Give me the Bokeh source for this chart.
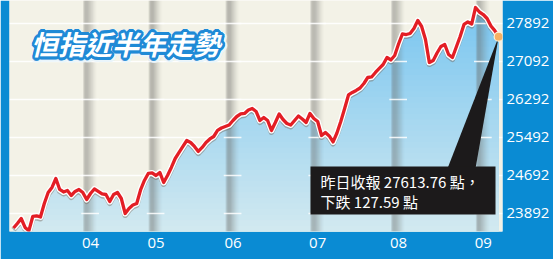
import numpy as np
from bokeh.plotting import figure
from bokeh.models import Range1d, FixedTicker, ColumnDataSource
from bokeh.core.properties import value
from bokeh.embed import file_html
from bokeh.resources import INLINE

# Hang Seng Index daily closes over the last half year (trading-day index 0..126)
closes = [
    23587, 23682, 23787, 23598, 23530, 23829, 23840, 23819, 24103, 24334,
    24440, 24629, 24398, 24345, 24377, 24271, 24356, 24398, 24334, 24187,
    24313, 24408, 24356, 24303, 24292, 24145, 24292, 24334, 24208, 23892,
    23998, 24071, 24103, 24387, 24587, 24735, 24745, 24692, 24756, 24545,
    24692, 24861, 25050, 25177, 25303, 25429, 25387, 25303, 25198, 25282,
    25387, 25461, 25513, 25640, 25692, 25724, 25755, 25850, 25934, 25987,
    25998, 26071, 26103, 26040, 25850, 25913, 25850, 25640, 25808, 25987,
    25871, 25787, 25755, 25850, 25945, 25882, 25808, 25998, 25892, 25829,
    25534, 25597, 25524, 25398, 25587, 25829, 26103, 26387, 26440, 26482,
    26534, 26629, 26755, 26766, 26861, 26945, 27029, 27176, 27124, 27218,
    27460, 27671, 27660, 27681, 27787, 27955, 27829, 27555, 27071, 27113,
    27271, 27408, 27450, 27239, 27176, 27397, 27618, 27871, 27924, 27881,
    28229, 28134, 28081, 27997, 27839, 27741.35, 27613.76,
]
days = list(range(len(closes)))

# first trading day of each month and its label
month_days = [20, 37, 57, 79, 100, 122]
month_labels = ["04", "05", "06", "07", "08", "09"]

price_ticks = [23892, 24692, 25492, 26292, 27092, 27892]

title_text = "恒指近半年走勢"

last_close = closes[-1]
prev_close = closes[-2]
note_line1 = f"昨日收報 {last_close:.2f} 點，"
note_line2 = f"下跌 {prev_close - last_close:.2f} 點"

# ---- look ----
BLUE = "#0a8bd3"
CREAM = "#f3f2e7"
RED = "#e31e25"
W, H = 553, 259
BORDER_L, BORDER_R, BORDER_T, BORDER_B = 9, 51, 0, 28
FRAME_W = W - BORDER_L - BORDER_R
FRAME_H = H - BORDER_T - BORDER_B

x_start, x_end = -1.04, 127.0
y_start, y_end = 23513, 28376

# pixel -> data helpers for placing decorations inside the frame
def sx(px):
    return x_start + (px - BORDER_L) * (x_end - x_start) / FRAME_W

def sy(py):
    return y_end - (py - BORDER_T) * (y_end - y_start) / FRAME_H

units_per_px = (y_end - y_start) / FRAME_H

p = figure(
    width=W, height=H,
    x_range=Range1d(x_start, x_end), y_range=Range1d(y_start, y_end),
    output_backend="svg", toolbar_location=None,
    x_axis_location="below", y_axis_location="right",
    min_border_left=BORDER_L, min_border_right=BORDER_R,
    min_border_top=BORDER_T, min_border_bottom=BORDER_B,
    background_fill_color=CREAM, border_fill_color=BLUE,
    outline_line_color=None,
)
p.xgrid.grid_line_color = None
p.ygrid.grid_line_color = None

axis_font = "Open Sans"
p.xaxis.ticker = FixedTicker(ticks=month_days)
p.xaxis.major_label_overrides = {d: lab for d, lab in zip(month_days, month_labels)}
p.yaxis.ticker = FixedTicker(ticks=price_ticks)
p.yaxis.major_label_overrides = {t: str(t) for t in price_ticks}
for ax in (p.xaxis, p.yaxis):
    ax.axis_line_color = None
    ax.major_tick_line_color = None
    ax.minor_tick_line_color = None
    ax.major_tick_out = 0
    ax.major_tick_in = 0
    ax.major_label_text_color = "white"
    ax.major_label_text_font = axis_font
    ax.major_label_text_font_size = "15px"
p.xaxis.major_label_standoff = 6
p.yaxis.major_label_standoff = 4

# faint white gridlines on the cream panel
p.hspan(y=price_ticks, line_color="white", line_width=1.5, line_alpha=0.9)

# ---- gradient area under the curve (stacked, each one clipped at a level) ----
def clip_below(xs, vs, level):
    out_x, out_y = [], []
    for i in range(len(xs)):
        x0, v0 = xs[i], vs[i]
        out_x.append(x0)
        out_y.append(min(v0, level))
        if i < len(xs) - 1:
            x1, v1 = xs[i + 1], vs[i + 1]
            if (v0 - level) * (v1 - level) < 0:
                t = (level - v0) / (v1 - v0)
                out_x.append(x0 + t * (x1 - x0))
                out_y.append(level)
    return out_x, out_y

top_rgb = np.array([118, 196, 240])
bot_rgb = np.array([210, 233, 240])
n_bands = 40
edges = np.linspace(y_start, max(closes), n_bands + 1)
for k in range(n_bands, 0, -1):
    bx, by = clip_below(days, closes, edges[k])
    mid = 0.5 * (edges[k - 1] + edges[k])
    f = (mid - y_start) / (y_end - y_start)
    rgb = (bot_rgb + (top_rgb - bot_rgb) * f).round().astype(int)
    col = "#%02x%02x%02x" % tuple(rgb)
    p.varea(x=bx, y1=[y_start] * len(bx), y2=by, fill_color=col, fill_alpha=1.0)

# ---- shaded month columns ----
col_alpha = [0.22, 0.40, 0.46, 0.46, 0.42, 0.36, 0.30, 0.24, 0.18, 0.13, 0.08, 0.04, 0.015]
strip_w = 3.6 / len(col_alpha)
lefts, rights, alphas = [], [], []
for m in month_days:
    for i, a in enumerate(col_alpha):
        lefts.append(m - 1.9 + i * strip_w)
        rights.append(m - 1.9 + (i + 1) * strip_w)
        alphas.append(a)
p.quad(left=lefts, right=rights, top=y_end, bottom=y_start,
       fill_color="#6a6a66", fill_alpha=alphas, line_color=None)

# white gridline pieces crossing the columns
seg_x0, seg_x1, seg_y = [], [], []
for m in month_days:
    for t in price_ticks:
        seg_x0.append(m - 2.4)
        seg_x1.append(m + 2.2)
        seg_y.append(t)
p.segment(x0=seg_x0, y0=seg_y, x1=seg_x1, y1=seg_y,
          line_color="white", line_width=1.5, line_alpha=0.85)

# ---- price line ----
shadow_y = [v - 1.8 * units_per_px for v in closes]
p.line(days, shadow_y, line_color="#6e5a4a", line_alpha=0.4, line_width=5.5,
       line_join="round")
p.line(days, closes, line_color="white", line_width=6, line_join="round")
p.line(days, closes, line_color=RED, line_width=3.3, line_join="round")

# ---- callout ----
p.patch(x=[days[-1], sx(447), sx(475)], y=[last_close, sy(168), sy(168)],
        fill_color="#1c1a1b", line_color=None)
p.quad(left=[sx(310)], right=[sx(495)], top=[sy(166)], bottom=[sy(214)],
       fill_color="#1c1a1b", line_color=None)
cjk = value("Noto Sans CJK TC")
p.text(x=[sx(320), sx(320)], y=[sy(181), sy(201)], text=[note_line1, note_line2],
       text_font=cjk, text_font_size="15px", text_color="white",
       text_align="left", text_baseline="middle")

p.scatter([days[-1]], [last_close], size=9, marker="circle",
          fill_color="#f6b064", line_color="#fff1d6", line_width=1.2)

# ---- title with outlined lettering ----
tx, ty = sx(125), sy(43)
ang = np.linspace(0, 2 * np.pi, 24, endpoint=False)
halo = ColumnDataSource(dict(
    x=[tx] * len(ang), y=[ty] * len(ang), text=[title_text] * len(ang),
    dx=list(4.2 * np.cos(ang) + 0.8), dy=list(4.2 * np.sin(ang) + 0.8)))
ring = ColumnDataSource(dict(
    x=[tx] * len(ang), y=[ty] * len(ang), text=[title_text] * len(ang),
    dx=list(2.6 * np.cos(ang)), dy=list(2.6 * np.sin(ang))))
title_kw = dict(text_font=cjk, text_font_size="27px", text_font_style="bold italic",
                text_align="center", text_baseline="middle")
p.text(x="x", y="y", text="text", x_offset="dx", y_offset="dy", source=halo,
       text_color="#eaf5fb", **title_kw)
p.text(x="x", y="y", text="text", x_offset="dx", y_offset="dy", source=ring,
       text_color="#1f8ad6", **title_kw)
p.text(x=[tx], y=[ty], text=[title_text], text_color="white", **title_kw)

open("out.html", "w").write(file_html(p, INLINE))
